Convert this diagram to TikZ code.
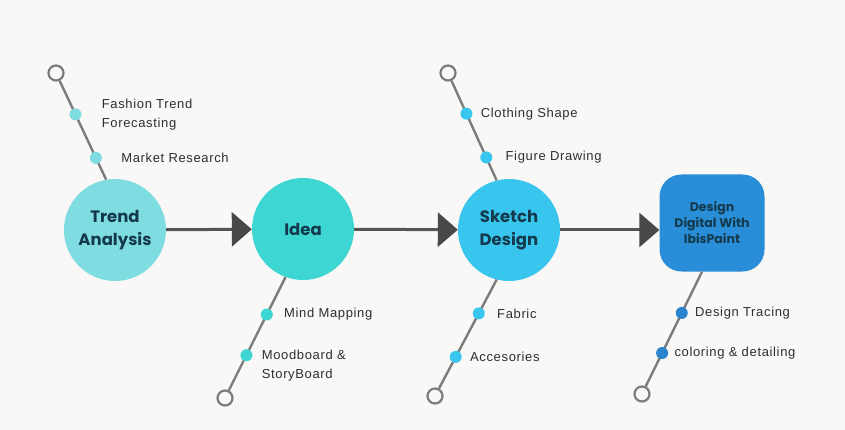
\documentclass[tikz,border=0pt]{standalone}
\usepackage{fontspec}
\setmainfont{Liberation Sans}
\newfontfamily\labelfont[LetterSpace=5]{Liberation Sans}
\newfontfamily\titlefont{Poppins}
\usetikzlibrary{arrows.meta,positioning}
\definecolor{paper}{HTML}{FAF8F6}
\definecolor{ink}{HTML}{133A4C}
\definecolor{txt}{HTML}{2E2E2E}
\definecolor{twigc}{HTML}{7C7C7C}
\definecolor{flowc}{HTML}{555555}
\definecolor{tipc}{HTML}{484848}
\definecolor{trend}{HTML}{7FDDE2}
\definecolor{idea}{HTML}{3ED6D3}
\definecolor{sketch}{HTML}{38C5EE}
\definecolor{digital}{HTML}{2A8DD8}
\definecolor{digdot}{HTML}{2A84CE}
\begin{document}
\begin{tikzpicture}[x=1pt,y=-1pt,
		stage/.style={circle,minimum size=102pt,inner sep=0pt,align=center,text=ink,
			font=\titlefont\bfseries\fontsize{16.5}{23}\selectfont},
		box/.style={rectangle,rounded corners=22pt,minimum width=105pt,minimum height=97pt,
			inner sep=0pt,align=center,fill=digital,text=ink,font=\titlefont\bfseries\fontsize{12.5}{16}\selectfont},
		flow/.style={draw=flowc,line width=3pt,-{Triangle[length=20pt,width=34pt,color=tipc]}},
		twig/.style={draw=twigc,line width=2.4pt},
		knob/.style={circle,draw=twigc,line width=2.2pt,fill=paper,minimum size=15pt,inner sep=0pt},
		dot/.style={circle,minimum size=12pt,inner sep=0pt},
		lbl/.style={inner sep=0pt,align=left,text=txt,font=\labelfont\fontsize{13}{19}\selectfont}]
	\useasboundingbox[fill=paper] (0,0) rectangle (845,430);
	% the four stages
	\node[stage,fill=trend] (ta) at (115,230) {Trend\\Analysis};
	\node[stage,fill=idea] (idea) at (303,229) {Idea};
	\node[stage,fill=sketch] (sk) at (509,230) {Sketch\\Design};
	\node[box] (dd) at (712,223) {Design\\Digital With\\IbisPaint};
	\draw[flow] (ta) -- (idea);
	\draw[flow] (idea) -- (sk);
	\draw[flow] (sk.east) -- (sk.east -| dd.west);
	% branches above
	\node[knob] (t0) at (56,73) {};
	\draw[twig] (t0) -- (ta.100)
		node[dot,fill=trend,pos=.34] (t1) {} node[dot,fill=trend,pos=.78] (t2) {};
	\node[knob] (s0) at (448,73) {};
	\draw[twig] (s0) -- (sk.104)
		node[dot,fill=sketch,pos=.33] (s1) {} node[dot,fill=sketch,pos=.77] (s2) {};
	% branches below
	\node[knob] (i0) at (225,398) {};
	\draw[twig] (idea.-110) -- (i0)
		node[dot,fill=idea,pos=.33] (i1) {} node[dot,fill=idea,pos=.69] (i2) {};
	\node[knob] (k0) at (435,396) {};
	\draw[twig] (sk.-104) -- (k0)
		node[dot,fill=sketch,pos=.31] (k1) {} node[dot,fill=sketch,pos=.71] (k2) {};
	\node[knob] (d0) at (642,394) {};
	\draw[twig] ([xshift=-10pt]dd.south) -- (d0)
		node[dot,fill=digdot,pos=.36] (d1) {} node[dot,fill=digdot,pos=.71] (d2) {};
	% labels
	\node[lbl,right=19pt of t1] (t1l) {Fashion Trend\\Forecasting};
	\node[lbl,right=18pt of t2] (t2l) {Market Research};
	\node[lbl,right=7pt of s1] (s1l) {Clothing Shape};
	\node[lbl,right=12pt of s2] (s2l) {Figure Drawing};
	\node[lbl,right=10pt of i1] (i1l) {Mind Mapping};
	\node[lbl,right=8pt of i2,yshift=-10pt] (i2l) {Moodboard \&\\StoryBoard};
	\node[lbl,right=11pt of k1] (k1l) {Fabric};
	\node[lbl,right=7pt of k2] (k2l) {Accesories};
	\node[lbl,right=6pt of d1] (d1l) {Design Tracing};
	\node[lbl,right=5pt of d2] (d2l) {coloring \& detailing};
\end{tikzpicture}
\end{document}
